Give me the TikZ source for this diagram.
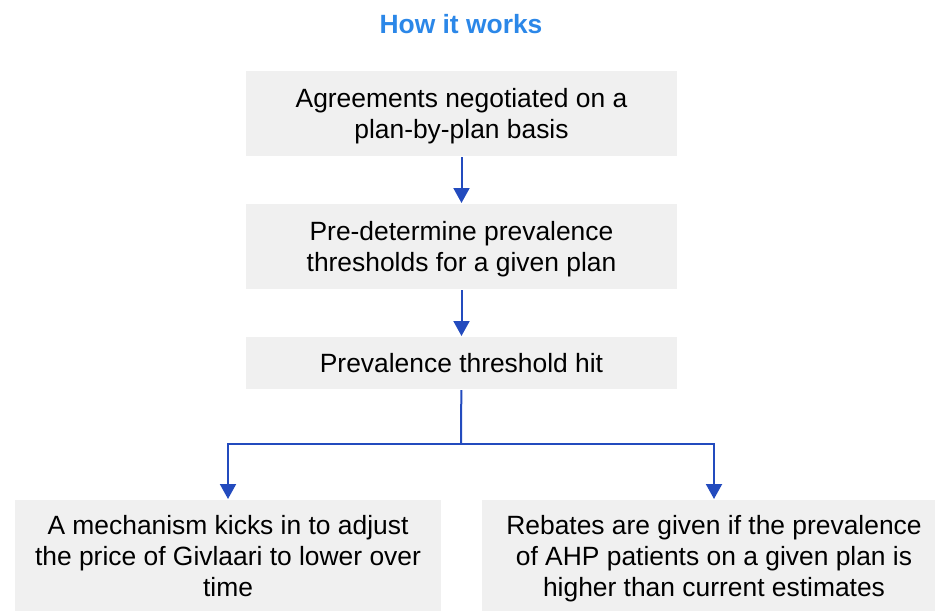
\documentclass[tikz,border=0pt]{standalone}
\usepackage{fontspec}
\setmainfont{Liberation Sans}
\usetikzlibrary{arrows.meta,positioning}
\definecolor{titleblue}{RGB}{43,135,232}
\definecolor{arrowblue}{RGB}{35,75,190}
\definecolor{boxgray}{RGB}{240,240,240}

\begin{document}
\begin{tikzpicture}[->,x=1pt,y=-1pt,line width=2pt,
      >={Triangle[width=16pt,length=15pt]},
      gbox/.style={fill=boxgray,inner sep=0pt,align=center,text depth=-5pt,
        font=\fontsize{26.4}{31}\selectfont}]
  \useasboundingbox (0,0) rectangle (935,611);
			\node[font=\bfseries\fontsize{26.4}{31}\selectfont,text=titleblue] (title) at (461,24) {How it works};
			\node[gbox,minimum width=431pt,minimum height=85pt] (agree) at (461.5,113.5) {Agreements negotiated on a\\plan-by-plan basis};
			\node[gbox,minimum width=431pt,minimum height=85pt] (predet) at (461.5,246.5) {Pre-determine prevalence\\thresholds for a given plan};
			\node[gbox,minimum width=431pt,minimum height=52pt] (hit) at (461.5,363) {Prevalence threshold hit};
			\node[gbox,minimum width=426pt,minimum height=111pt] (mech) at (228,555.5) {A mechanism kicks in to adjust\\the price of Givlaari to lower over\\time};
			\node[gbox,minimum width=464pt,minimum height=111pt] (rebate) at (714,555.5) {Rebates are given if the prevalence\\of AHP patients on a given plan is\\higher than current estimates};
      \coordinate (split) at (461,444);
			\path[color=arrowblue]
        (agree) edge (predet)
        (predet) edge (hit);
      \draw[arrowblue,-] (hit) -- (split);
      \draw[arrowblue] (split) -| (mech);
      \draw[arrowblue] (split) -| (rebate);
		\end{tikzpicture}
\end{document}
